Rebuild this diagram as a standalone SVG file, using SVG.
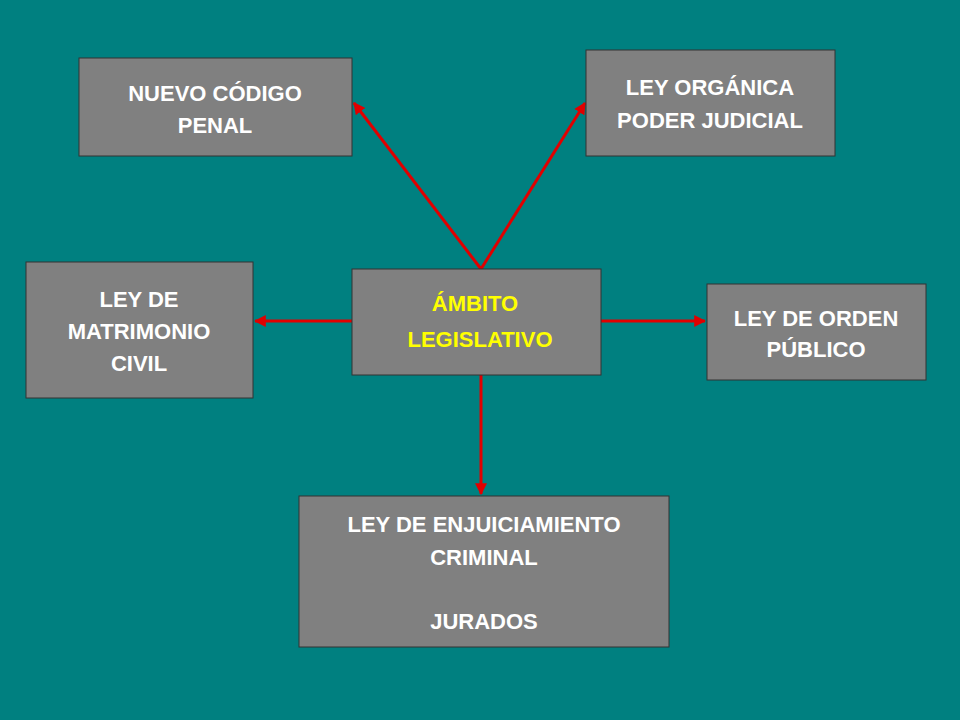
<svg xmlns="http://www.w3.org/2000/svg" width="960" height="720" viewBox="0 0 960 720">
<defs>
<style>
.box{fill:#808080;stroke:#333;stroke-width:1}
.t{font-family:"Liberation Sans",Arial,sans-serif;font-weight:bold;font-size:22px;fill:#fff;text-anchor:middle}
.y{fill:#ffff00}
.c{stroke:#e00000;stroke-width:3;fill:none;marker-end:url(#a)}
</style>
<marker id="a" viewBox="0 0 10 10" refX="9" refY="5" markerWidth="4" markerHeight="4" orient="auto"><path d="M0,0L10,5L0,10z" fill="#e00000"/></marker>
</defs>
<rect width="960" height="720" fill="#008080"/>
<g id="connectors">
<line class="c" x1="481" y1="269" x2="354" y2="103"/>
<line class="c" x1="481" y1="269" x2="585" y2="103"/>
<line class="c" x1="352" y1="321" x2="255" y2="321"/>
<line class="c" x1="601" y1="321" x2="705" y2="321"/>
<line class="c" x1="481" y1="375" x2="481" y2="494"/>
</g>
<g id="penal"><rect class="box" x="79" y="58" width="273" height="98"/><text class="t" x="215" y="101">NUEVO CÓDIGO</text><text class="t" x="215" y="133">PENAL</text></g>
<g id="organica"><rect class="box" x="586" y="50" width="249" height="106"/><text class="t" x="710" y="95">LEY ORGÁNICA</text><text class="t" x="710" y="128">PODER JUDICIAL</text></g>
<g id="matrimonio"><rect class="box" x="26" y="262" width="227" height="136"/><text class="t" x="139" y="307">LEY DE</text><text class="t" x="139" y="339">MATRIMONIO</text><text class="t" x="139" y="371">CIVIL</text></g>
<g id="ambito"><rect class="box" x="352" y="269" width="249" height="106"/><text class="t y" x="475" y="311">ÁMBITO</text><text class="t y" x="480" y="347">LEGISLATIVO</text></g>
<g id="orden"><rect class="box" x="707" y="284" width="219" height="96"/><text class="t" x="816" y="326">LEY DE ORDEN</text><text class="t" x="816" y="357">PÚBLICO</text></g>
<g id="enjuiciamiento"><rect class="box" x="299" y="496" width="370" height="151"/><text class="t" x="484" y="532">LEY DE ENJUICIAMIENTO</text><text class="t" x="484" y="565">CRIMINAL</text><text class="t" x="484" y="629">JURADOS</text></g>
</svg>
